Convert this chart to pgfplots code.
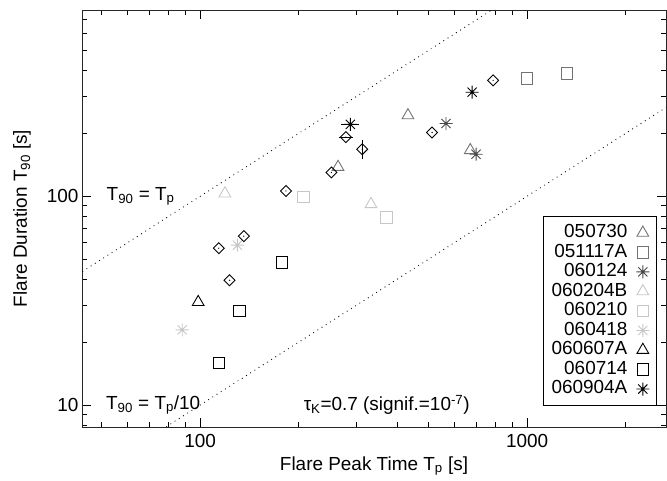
\documentclass[border=0pt]{standalone}
\usepackage{fontspec}
\setmainfont{Liberation Sans}
\usepackage{pgfplots}
\pgfplotsset{compat=1.18}
\usetikzlibrary{plotmarks,calc}

\definecolor{midgray}{gray}{0.45}
\definecolor{dkgray}{gray}{0.28}
\definecolor{ltgray}{gray}{0.78}

% square diamond with a dot in the middle
\pgfdeclareplotmark{rdiamond}{%
  \pgfpathmoveto{\pgfqpoint{0pt}{\pgfplotmarksize}}%
  \pgfpathlineto{\pgfqpoint{\pgfplotmarksize}{0pt}}%
  \pgfpathlineto{\pgfqpoint{0pt}{-\pgfplotmarksize}}%
  \pgfpathlineto{\pgfqpoint{-\pgfplotmarksize}{0pt}}%
  \pgfpathclose
  \pgfusepathqstroke
  \pgfpathcircle{\pgfpointorigin}{0.7pt}%
  \pgfusepathqfill}
% IDL-like asterisk, 8 arms
\pgfdeclareplotmark{star8}{%
  \pgfpathmoveto{\pgfqpoint{-\pgfplotmarksize}{0pt}}%
  \pgfpathlineto{\pgfqpoint{\pgfplotmarksize}{0pt}}%
  \pgfpathmoveto{\pgfqpoint{0pt}{-\pgfplotmarksize}}%
  \pgfpathlineto{\pgfqpoint{0pt}{\pgfplotmarksize}}%
  \pgfpathmoveto{\pgfqpoint{-.707\pgfplotmarksize}{-.707\pgfplotmarksize}}%
  \pgfpathlineto{\pgfqpoint{.707\pgfplotmarksize}{.707\pgfplotmarksize}}%
  \pgfpathmoveto{\pgfqpoint{-.707\pgfplotmarksize}{.707\pgfplotmarksize}}%
  \pgfpathlineto{\pgfqpoint{.707\pgfplotmarksize}{-.707\pgfplotmarksize}}%
  \pgfusepathqstroke}

\begin{document}
\begin{tikzpicture}
\begin{axis}[
    scale only axis,
    width=584bp, height=417bp,
    xmode=log, ymode=log,
    xmin=43.5, xmax=2660, ymin=7.85, ymax=780,
    log ticks with fixed point,
    /pgf/number format/1000 sep={},
    xtick={100,1000}, ytick={10,100},
    minor xtick={50,60,70,80,90,200,300,400,500,600,700,800,900,2000},
    minor ytick={8,9,20,30,40,50,60,70,80,90,200,300,400,500,600,700},
    tick align=inside,
    major tick length=9bp, minor tick length=5bp,
    tick style={black, line width=0.7pt},
    axis line style={black!85, line width=0.9pt},
    font=\fontsize{19}{22}\selectfont,
    /pgf/number format/assume math mode=true,
    xlabel={Flare Peak Time T\textsubscript{p} [s]},
    ylabel={Flare Duration T\textsubscript{90} [s]},
    xlabel style={at={(axis description cs:0.5,-0.0935)}, anchor=center},
    ylabel style={at={(axis description cs:-0.1027,0.5)}, anchor=center},
    xticklabel style={yshift=-4bp},
    legend plot pos=right,
    legend cell align=right,
    legend style={at={(axis description cs:0.984,0.05)}, anchor=south east,
        draw=black, line width=0.7pt, font=\fontsize{19}{21}\selectfont,
        nodes={inner xsep=1pt, inner ysep=0.8pt, text height=13.7pt, text depth=4.3pt},
        inner xsep=7bp, inner ysep=7bp,
        /tikz/every odd column/.append style={column sep=8bp}},
]

% reference lines T90 = Tp and T90 = Tp/10
\addplot[black, line width=1.2pt, line cap=round, dash pattern=on 0pt off 5pt, forget plot]
    coordinates {(40,40) (3000,3000)};
\addplot[black, line width=1.2pt, line cap=round, dash pattern=on 0pt off 5pt, forget plot]
    coordinates {(40,4) (3000,300)};

\addplot[only marks, mark=triangle, mark size=6.8pt, midgray, line width=0.9pt]
    coordinates {(264,138) (432,244) (670,166)};
\addlegendentry{050730}
\addplot[only marks, mark=square, mark size=5.8pt, midgray, line width=0.9pt]
    coordinates {(1000,367) (1325,388)};
\addlegendentry{051117A}
\addplot[only marks, mark=star8, mark size=6.5pt, dkgray, line width=0.9pt]
    coordinates {(565,223) (698,159)};
\addlegendentry{060124}
\addplot[only marks, mark=triangle, mark size=6.8pt, ltgray, line width=0.9pt]
    coordinates {(119,103) (333,91.6)};
\addlegendentry{060204B}
\addplot[only marks, mark=square, mark size=5.8pt, ltgray, line width=0.9pt]
    coordinates {(207,99) (371,79.4)};
\addlegendentry{060210}
\addplot[only marks, mark=star8, mark size=6.5pt, ltgray, line width=0.9pt]
    coordinates {(130,58.3) (88.1,22.9)};
\addlegendentry{060418}
\addplot[only marks, mark=triangle, mark size=6.8pt, black, line width=0.9pt]
    coordinates {(98.6,31.1)};
\addlegendentry{060607A}
\addplot[only marks, mark=square, mark size=5.8pt, black, line width=0.9pt]
    coordinates {(178,48.3) (132,28.2) (114,15.9)};
\addlegendentry{060714}
\addplot[only marks, mark=star8, mark size=6.5pt, black, line width=0.9pt]
    coordinates {(288,221) (679,315)};
\addlegendentry{060904A}

% flares of other bursts
\addplot[only marks, mark=rdiamond, mark size=5.5pt, black, line width=0.9pt, forget plot]
    coordinates {(787,359) (279,192) (313,168) (512,202) (252,130)
                 (183,106) (114,56.4) (136,64.4) (123,39.6)};
\addplot[draw=none, black, line width=0.8pt, forget plot,
    error bars/.cd, x dir=both, y dir=both, x explicit, y explicit, error mark=none]
    coordinates {(313,168) +- (0,18) (279,192) +- (14,0) (288,221) +- (18,0)};

\node[anchor=west] at (axis cs:50.5,100) {T\textsubscript{90} = T\textsubscript{p}};
\node[anchor=west] at (axis cs:50.3,10) {T\textsubscript{90} = T\textsubscript{p}/10};
\node[anchor=center] at (axis cs:372,10) {τ\textsubscript{K}=0.7 (signif.=10\textsuperscript{-7})};

\coordinate (sw) at (rel axis cs:0,0);
\coordinate (ne) at (rel axis cs:1,1);
\end{axis}
\pgfresetboundingbox
\path[use as bounding box] ($(sw)+(-82bp,-54bp)$) rectangle ($(ne)+(1bp,10bp)$);
\end{tikzpicture}
\end{document}
